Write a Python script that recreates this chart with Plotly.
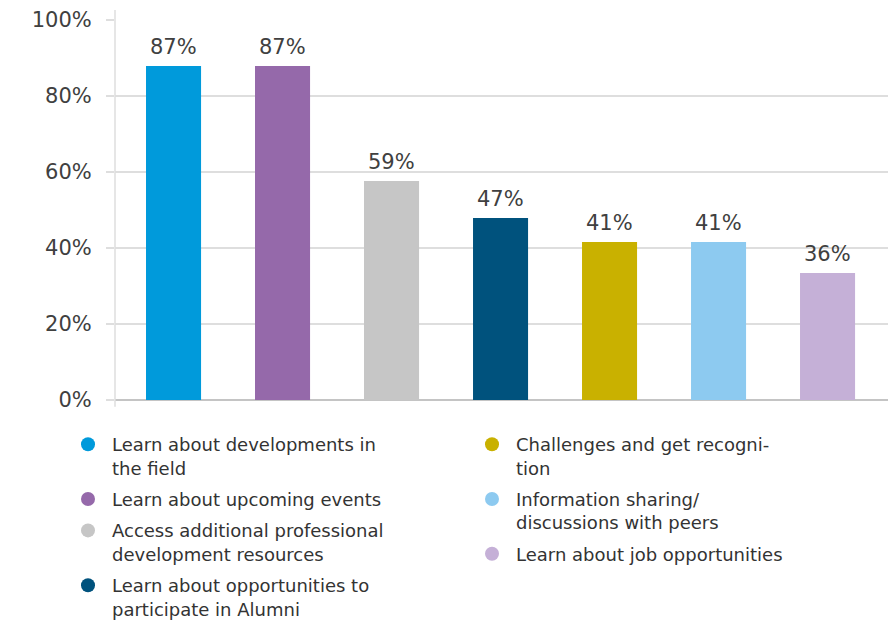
import plotly.graph_objects as go

categories = [
    "Learn about developments in<br>the field",
    "Learn about upcoming events",
    "Access additional professional<br>development resources",
    "Learn about opportunities to<br>participate in Alumni",
    "Challenges and get recogni-<br>tion",
    "Information sharing/<br>discussions with peers",
    "Learn about job opportunities",
]
values = [87.9, 87.9, 57.6, 47.9, 41.6, 41.6, 33.4]
value_labels = ["87%", "87%", "59%", "47%", "41%", "41%", "36%"]
colors = ["#009ADB", "#9569AA", "#C6C6C6", "#00527D", "#C9B100", "#8DCAF0", "#C5B0D7"]
y_ticks = [0, 20, 40, 60, 80, 100]
y_ticklabels = ["0%", "20%", "40%", "60%", "80%", "100%"]

TXT = "#404040"
GRID = "#dedede"

fig = go.Figure()
fig.add_trace(go.Bar(
    x=list(range(len(categories))), y=values, marker=dict(color=colors, line=dict(width=0)),
    width=0.505, showlegend=False, hoverinfo="skip",
))

for i, (name, c) in enumerate(zip(categories, colors)):
    fig.add_trace(go.Scatter(
        x=[None], y=[None], mode="markers", name=name,
        marker=dict(color=c, size=14, symbol="circle"),
        legendgroup=f"g{i}", legend="legend" if i < 4 else "legend2",
    ))

for i, (v, t) in enumerate(zip(values, value_labels)):
    fig.add_annotation(x=i, y=v, text=t, showarrow=False, yanchor="bottom", yshift=5,
                       font=dict(family="DejaVu Sans", size=21, color=TXT))

legend_common = dict(
    orientation="v", xanchor="left", yanchor="top", valign="top",
    font=dict(family="DejaVu Sans", size=18, color="#333333"),
    tracegroupgap=5, itemwidth=38, bgcolor="rgba(0,0,0,0)", borderwidth=0,
    itemclick=False, itemdoubleclick=False,
)

# page body adds an 8px margin, so the figure is 8px smaller and margins shifted
fig.update_layout(
    width=888, height=616,
    margin=dict(l=107, r=6, t=12, b=224, autoexpand=False),
    paper_bgcolor="white", plot_bgcolor="white",
    font=dict(family="DejaVu Sans", color=TXT),
    bargap=0.495,
    legend=dict(x=(56 - 107) / 775, y=(392 - 418) / 380, **legend_common),
    legend2=dict(x=(460 - 107) / 775, y=(392 - 418) / 380, **legend_common),
    xaxis=dict(range=[-0.537, 6.573], showticklabels=False, showgrid=False,
               zeroline=False, showline=False, ticks=""),
    yaxis=dict(range=[0, 100], tickvals=y_ticks, ticktext=y_ticklabels,
               tickfont=dict(family="DejaVu Sans", size=21, color=TXT),
               showgrid=True, gridcolor=GRID, gridwidth=1.5,
               zeroline=True, zerolinecolor="#c4c4c4", zerolinewidth=2,
               ticks="outside", ticklen=8, tickcolor=GRID, tickwidth=1.5,
               ticklabelstandoff=10, showline=False),
    shapes=[dict(type="line", xref="paper", yref="paper", x0=0, x1=0, y0=-0.018, y1=1.026,
                 line=dict(color=GRID, width=1.5))],
)

fig.write_html("out.html")
